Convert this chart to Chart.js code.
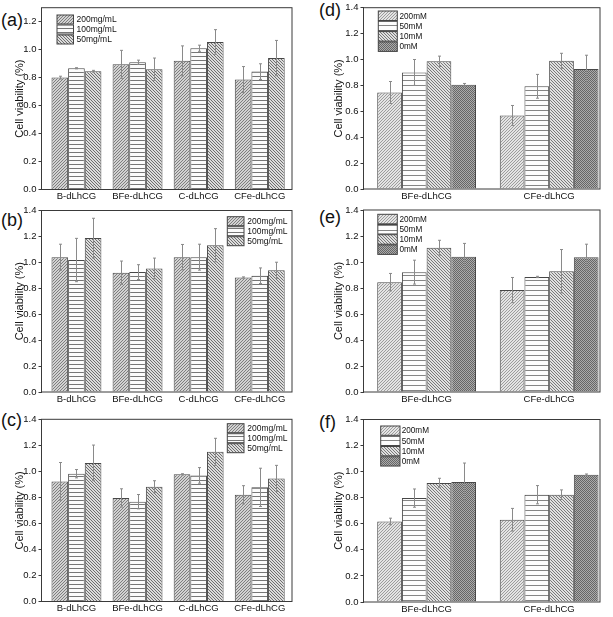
<!DOCTYPE html>
<html><head><meta charset="utf-8">
<script src="https://cdn.jsdelivr.net/npm/chart.js@4/dist/chart.umd.min.js"></script>
<style>
html,body{margin:0;padding:0;background:#fff;}
#wrap{position:relative;width:613px;height:617px;overflow:hidden;background:#fff;}
#wrap canvas{position:absolute;left:0;top:0;}
.pl{position:absolute;font:18px "Liberation Sans",Arial,sans-serif;line-height:1;color:#111;}
</style></head>
<body><div id="wrap">
<div class="pl" style="left:1px;top:11px">(a)</div>
<div class="pl" style="left:1px;top:211px">(b)</div>
<div class="pl" style="left:1px;top:411px">(c)</div>
<div class="pl" style="left:319px;top:1px">(d)</div>
<div class="pl" style="left:319px;top:208px">(e)</div>
<div class="pl" style="left:319px;top:413px">(f)</div>
</div>
<script>
// ---------- DATA ----------
const groupsAC = ['B-dLhCG', 'BFe-dLhCG', 'C-dLhCG', 'CFe-dLhCG'];
const groupsDF = ['BFe-dLhCG', 'CFe-dLhCG'];
const concAC = ['200mg/mL', '100mg/mL', '50mg/mL'];
const concDF = ['200mM', '50mM', '10mM', '0mM'];
const yTitle = 'Cell viability (%)';

// panel (a)
const a200 = [0.800, 0.895, 0.920, 0.786];
const a100 = [0.867, 0.910, 1.010, 0.843];
const a50  = [0.846, 0.860, 1.055, 0.940];
const a200Err = [0.010, 0.100, 0.107, 0.093];
const a100Err = [0.004, 0.015, 0.022, 0.056];
const a50Err  = [0.006, 0.080, 0.088, 0.126];
// panel (b)
const b200 = [1.040, 0.920, 1.040, 0.883];
const b100 = [1.018, 0.925, 1.040, 0.897];
const b50  = [1.187, 0.953, 1.132, 0.939];
const b200Err = [0.100, 0.090, 0.098, 0.005];
const b100Err = [0.167, 0.057, 0.100, 0.060];
const b50Err  = [0.153, 0.080, 0.128, 0.062];
// panel (c)
const c200 = [0.923, 0.796, 0.977, 0.820];
const c100 = [0.982, 0.767, 0.969, 0.877];
const c50  = [1.065, 0.882, 1.150, 0.946];
const c200Err = [0.145, 0.070, 0.005, 0.070];
const c100Err = [0.032, 0.055, 0.060, 0.147];
const c50Err  = [0.137, 0.046, 0.104, 0.100];
// panel (d)
const d200 = [0.745, 0.568];
const d50  = [0.900, 0.793];
const d10  = [0.986, 0.990];
const d0   = [0.805, 0.926];
const d200Err = [0.085, 0.077];
const d50Err  = [0.100, 0.092];
const d10Err  = [0.040, 0.058];
const d0Err   = [0.010, 0.107];
// panel (e)
const e200 = [0.845, 0.784];
const e50  = [0.922, 0.885];
const e10  = [1.110, 0.929];
const e0   = [1.040, 1.037];
const e200Err = [0.067, 0.097];
const e50Err  = [0.092, 0.005];
const e10Err  = [0.057, 0.167];
const e0Err   = [0.103, 0.100];
// panel (f)
const f200 = [0.618, 0.631];
const f50  = [0.797, 0.823];
const f10  = [0.913, 0.823];
const f0   = [0.921, 0.977];
const f200Err = [0.025, 0.087];
const f50Err  = [0.070, 0.070];
const f10Err  = [0.036, 0.037];
const f0Err   = [0.145, 0.005];

// ---------- STYLE / LAYOUT ----------
const FONT = '"Liberation Sans", Arial, sans-serif';
Chart.defaults.font.family = FONT;
const W = 613, H = 617;

const patsAC = ['fwd', 'horiz', 'back'];
const patsDF = ['fwdLight', 'horizWide', 'back2', 'checker'];

function makePattern(ctx, kind) {
  const defs = {
    fwd:       {n: 3, bg: '#d2d2d2', fg: '#7e7e7e', f: (x, y, n) => (x + y) % n === 0},
    horiz:     {n: 4, bg: '#fbfbfb', fg: '#767676', f: (x, y, n) => y % n === 0},
    back:      {n: 3, bg: '#dcdcdc', fg: '#6e6e6e', f: (x, y, n) => ((x - y) % n + n) % n === 0},
    fwdLight:  {n: 3, bg: '#e4e4e4', fg: '#9c9c9c', f: (x, y, n) => (x + y) % n === 0},
    horizWide: {n: 5, bg: '#fdfdfd', fg: '#858585', f: (x, y, n) => y % n === 0},
    back2:     {n: 3, bg: '#e0e0e0', fg: '#787878', f: (x, y, n) => ((x - y) % n + n) % n === 0},
    checker:   {n: 2, bg: '#ababab', fg: '#666666', f: (x, y, n) => (x + y) % n === 0}
  };
  const d = defs[kind];
  const t = document.createElement('canvas');
  t.width = d.n; t.height = d.n;
  const c = t.getContext('2d');
  c.fillStyle = d.bg; c.fillRect(0, 0, d.n, d.n);
  c.fillStyle = d.fg;
  for (let y = 0; y < d.n; y++) for (let x = 0; x < d.n; x++) if (d.f(x, y, d.n)) c.fillRect(x, y, 1, 1);
  return ctx.createPattern(t, 'repeat');
}

const panels = [
  {groups: groupsAC, series: concAC, values: [a200, a100, a50], errors: [a200Err, a100Err, a50Err],
   yMax: 1.3, area: {l: 41.5, t: 7.7, r: 292, b: 189.5}, xr: [0.428, 4.528], cat: 0.817, pats: patsAC, yw: 27.8,
   legend: {x: 57, y: 15, w: 16.5, h: 9, pitch: 10, tx: 76.5, fs: 8.5}},
  {groups: groupsAC, series: concAC, values: [b200, b100, b50], errors: [b200Err, b100Err, b50Err],
   yMax: 1.4, area: {l: 41.5, t: 210.5, r: 292, b: 392}, xr: [0.428, 4.528], cat: 0.817, pats: patsAC, yw: 27.8,
   legend: {x: 227.3, y: 216.7, w: 16.7, h: 9, pitch: 10, tx: 247.3, fs: 8.5}},
  {groups: groupsAC, series: concAC, values: [c200, c100, c50], errors: [c200Err, c100Err, c50Err],
   yMax: 1.4, area: {l: 41.5, t: 419.3, r: 292, b: 601.5}, xr: [0.428, 4.528], cat: 0.817, pats: patsAC, yw: 27.8,
   legend: {x: 227.3, y: 423.7, w: 16.7, h: 9, pitch: 10, tx: 247.3, fs: 8.5}},
  {groups: groupsDF, series: concDF, values: [d200, d50, d10, d0], errors: [d200Err, d50Err, d10Err, d0Err],
   yMax: 1.4, area: {l: 363.5, t: 6.7, r: 600, b: 189}, xr: [0.485, 2.415], cat: 0.806, pats: patsDF, yw: 31.3,
   legend: {x: 378.3, y: 11, w: 19, h: 9.5, pitch: 10.3, tx: 399.5, fs: 8.2}},
  {groups: groupsDF, series: concDF, values: [e200, e50, e10, e0], errors: [e200Err, e50Err, e10Err, e0Err],
   yMax: 1.4, area: {l: 363.5, t: 210, r: 600, b: 392}, xr: [0.485, 2.415], cat: 0.806, pats: patsDF, yw: 31.3,
   legend: {x: 377.8, y: 214.3, w: 19.5, h: 9.5, pitch: 10.2, tx: 399.5, fs: 8.2}},
  {groups: groupsDF, series: concDF, values: [f200, f50, f10, f0], errors: [f200Err, f50Err, f10Err, f0Err],
   yMax: 1.4, area: {l: 363.5, t: 419.5, r: 600, b: 602}, xr: [0.485, 2.415], cat: 0.806, pats: patsDF, yw: 31.3,
   legend: {x: 380.7, y: 426, w: 19.3, h: 9.3, pitch: 10.25, tx: 401.7, fs: 8.2}}
];

// ---------- PLUGINS ----------
const framePlugin = {
  id: 'frame',
  afterDraw(chart) {
    const a = chart.chartArea, ctx = chart.ctx;
    ctx.save();
    ctx.strokeStyle = '#3a3a3a'; ctx.lineWidth = 1;
    ctx.strokeRect(a.left, a.top, a.right - a.left, a.bottom - a.top);
    ctx.restore();
  }
};
const errPlugin = {
  id: 'errbars',
  afterDatasetsDraw(chart, args, opts) {
    const ctx = chart.ctx, ys = chart.scales.y;
    ctx.save();
    ctx.strokeStyle = '#8a8a8a'; ctx.lineWidth = 1;
    chart.data.datasets.forEach((ds, i) => {
      const meta = chart.getDatasetMeta(i);
      const errs = opts.errors[i];
      meta.data.forEach((el, j) => {
        const v = ds.data[j].y, e = errs[j];
        const x = Math.round(el.x) + 0.5;
        const y1 = ys.getPixelForValue(v + e), y2 = ys.getPixelForValue(v - e);
        ctx.beginPath();
        ctx.moveTo(x, y1); ctx.lineTo(x, y2);
        ctx.moveTo(x - 1.5, y1); ctx.lineTo(x + 1.5, y1);
        ctx.moveTo(x - 1.5, y2); ctx.lineTo(x + 1.5, y2);
        ctx.stroke();
      });
    });
    ctx.restore();
  }
};
const legendPlugin = {
  id: 'boxlegend',
  afterDraw(chart, args, o) {
    const ctx = chart.ctx;
    ctx.save();
    chart.data.datasets.forEach((ds, i) => {
      const y = o.y + i * o.pitch;
      ctx.fillStyle = ds.backgroundColor;
      ctx.fillRect(o.x, y, o.w, o.h);
      ctx.strokeStyle = '#444'; ctx.lineWidth = 1;
      ctx.strokeRect(o.x, y, o.w, o.h);
      ctx.fillStyle = '#111';
      ctx.font = o.fs + 'px ' + FONT;
      ctx.textBaseline = 'middle'; ctx.textAlign = 'left';
      ctx.fillText(ds.label, o.tx, y + o.h / 2 + 0.5);
    });
    ctx.restore();
  }
};

// ---------- BUILD ----------
const wrap = document.getElementById('wrap');
panels.forEach(p => {
  const cv = document.createElement('canvas');
  cv.width = W; cv.height = H;
  cv.style.width = W + 'px'; cv.style.height = H + 'px';
  wrap.appendChild(cv);
  const ctx = cv.getContext('2d');
  const XH = 20;
  const datasets = p.series.map((s, i) => ({
    label: s,
    data: p.values[i].map((v, j) => ({x: j + 1, y: v})),
    backgroundColor: makePattern(ctx, p.pats[i]),
    borderColor: '#474747',
    borderWidth: 1,
    categoryPercentage: p.cat,
    barPercentage: 1
  }));
  new Chart(ctx, {
    type: 'bar',
    data: {datasets},
    options: {
      responsive: false,
      animation: false,
      devicePixelRatio: 1,
      layout: {padding: {left: p.area.l - p.yw, top: p.area.t, right: W - p.area.r, bottom: H - p.area.b - XH}},
      plugins: {
        legend: {display: false},
        tooltip: {enabled: false},
        errbars: {errors: p.errors},
        boxlegend: p.legend
      },
      scales: {
        x: {
          type: 'linear', min: p.xr[0], max: p.xr[1], offset: false,
          afterBuildTicks(s) { s.ticks = p.groups.map((g, i) => ({value: i + 1})); },
          afterFit(s) { s.height = XH; },
          ticks: {
            autoSkip: false, maxRotation: 0, minRotation: 0, padding: 1.5,
            color: '#111', font: {size: 9.5},
            callback: v => p.groups[Math.round(v) - 1] || ''
          },
          grid: {display: false, drawTicks: false, offset: false},
          border: {display: false}
        },
        y: {
          min: 0, max: p.yMax,
          afterFit(s) { s.width = p.yw; },
          ticks: {stepSize: 0.2, includeBounds: false, padding: 2, color: '#111', font: {size: 9.5},
                  callback: v => Number(v).toFixed(1)},
          grid: {drawOnChartArea: false, drawTicks: true, tickLength: 3, color: '#3a3a3a'},
          border: {display: false},
          title: {display: true, text: yTitle, color: '#111', font: {size: 11}, padding: 0}
        }
      }
    },
    plugins: [errPlugin, framePlugin, legendPlugin]
  });
});
</script>
</body></html>
